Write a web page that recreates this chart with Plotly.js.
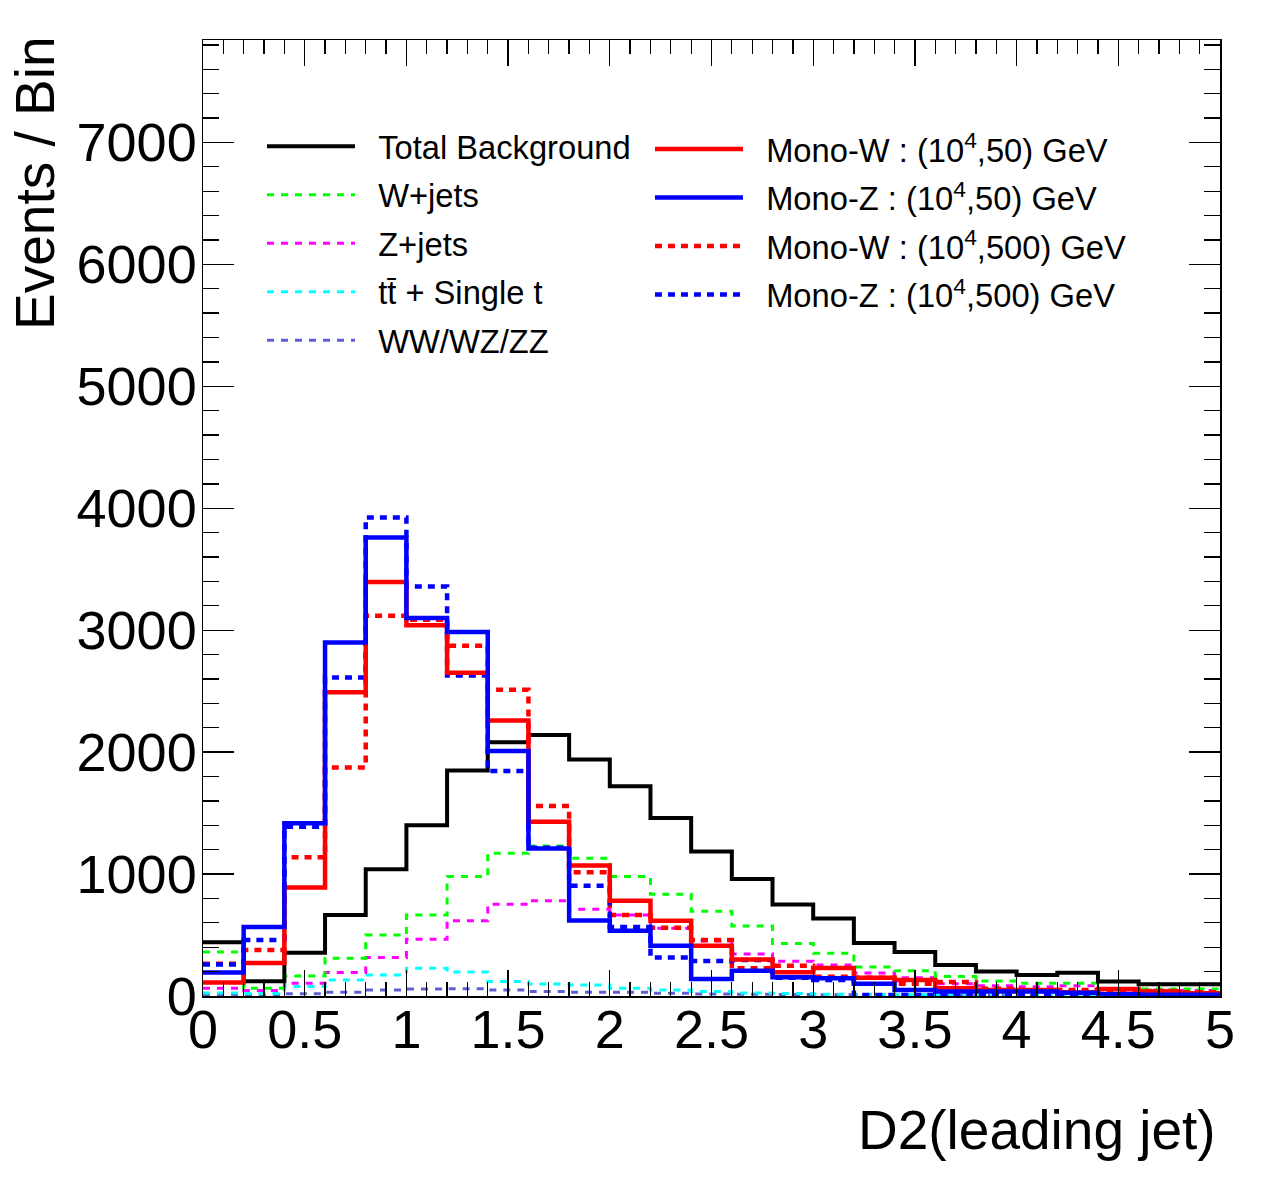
<!DOCTYPE html>
<html>
<head>
<meta charset="utf-8">
<script src="https://cdn.plot.ly/plotly-3.0.1.min.js"></script>
<style>html,body{margin:0;padding:0;background:#fff;}#chart{width:1264px;height:1186px;}</style>
</head>
<body>
<div id="chart"></div>
<script>
// Bin edges of the D2 histogram (25 bins)
const binEdges = [0,0.2,0.4,0.6,0.8,1.0,1.2,1.4,1.6,1.8,2.0,2.2,2.4,2.6,2.8,3.0,3.2,3.4,3.6,3.8,4.0,4.2,4.4,4.6,4.8,5.0];

// Events per bin
const totalBkg = [440,120,355,665,1040,1400,1850,2080,2140,1940,1720,1460,1185,960,750,635,435,360,254,200,172,190,118,97,97];
const wJets    = [360,63,165,310,500,665,980,1170,1230,1130,980,835,695,575,430,350,237,208,159,123,104,104,58,58,58];
const zJets    = [63,45,104,193,315,465,618,752,782,711,665,555,451,345,284,254,188,150,100,85,75,85,50,50,45];
const topQuark = [25,20,77,131,172,227,197,118,98,90,63,49,36,25,20,15,12,10,8,6,5,5,4,3,3];
const diboson  = [8,8,18,30,49,57,60,49,36,30,30,22,16,14,12,10,8,6,5,4,4,3,3,2,2];
const monoW50  = [110,270,890,2490,3395,3040,2650,2260,1430,1070,782,618,413,300,194,230,150,131,63,49,49,30,57,36,22];
const monoZ50  = [192,565,1417,2900,3760,3100,2985,2010,1210,620,536,413,140,208,153,145,100,49,36,36,36,27,14,10,10];
const monoW500 = [265,377,1138,1874,3118,3085,2872,2511,1559,1015,665,560,460,227,249,158,150,100,115,60,40,50,40,40,30];
const monoZ500 = [258,460,1389,2612,3925,3359,2629,1846,1215,905,565,316,287,295,150,131,8,8,8,6,6,5,5,5,5];

const names = {
  total: 'Total Background',
  w: 'W+jets',
  z: 'Z+jets',
  top: 'tt\u0304 + Single t',
  vv: 'WW/WZ/ZZ',
  mw50: 'Mono-W : (10<sup>4</sup>,50) GeV',
  mz50: 'Mono-Z : (10<sup>4</sup>,50) GeV',
  mw500: 'Mono-W : (10<sup>4</sup>,500) GeV',
  mz500: 'Mono-Z : (10<sup>4</sup>,500) GeV'
};

const PAD = '\u00A0\u00A0';
function step(vals, name, color, width, dash, legend, rank) {
  return {
    type: 'scatter', mode: 'lines',
    x: binEdges,
    y: vals.concat([vals[vals.length - 1]]),
    line: {shape: 'hv', color: color, width: width, dash: dash},
    name: PAD + name,
    legend: legend,
    legendgroup: 'g' + rank,
    legendrank: rank,
    hoverinfo: 'skip'
  };
}

const bgDash = '7px,7px';
const sigDash = '7px,6px';
const traces = [
  step(diboson, names.vv, '#5f5fd3', 3, bgDash, 'legend', 5),
  step(topQuark, names.top, '#00ffff', 3, bgDash, 'legend', 4),
  step(zJets, names.z, '#ff00ff', 3, bgDash, 'legend', 3),
  step(wJets, names.w, '#00ff00', 3, bgDash, 'legend', 2),
  step(totalBkg, names.total, '#000000', 4, 'solid', 'legend', 1),
  step(monoW500, names.mw500, '#ff0000', 4.5, sigDash, 'legend2', 13),
  step(monoZ500, names.mz500, '#0000ff', 4.5, sigDash, 'legend2', 14),
  step(monoW50, names.mw50, '#ff0000', 4.5, 'solid', 'legend2', 11),
  step(monoZ50, names.mz50, '#0000ff', 4.5, 'solid', 'legend2', 12)
];

const FONT = 'Liberation Sans, Arial, Helvetica, sans-serif';
const legendCommon = {
  font: {family: FONT, size: 32.7, color: '#000'},
  bgcolor: 'rgba(0,0,0,0)', borderwidth: 0,
  itemwidth: 88, tracegroupgap: 3,
  xanchor: 'left', yanchor: 'top', traceorder: 'grouped',
  itemclick: false, itemdoubleclick: false
};

const layout = {
  width: 1264, height: 1186,
  margin: {l: 203, r: 44, t: 40, b: 190},
  paper_bgcolor: '#fff', plot_bgcolor: '#fff',
  font: {family: FONT, color: '#000'},
  showlegend: true,
  legend: Object.assign({}, legendCommon, {x: 0.058, y: 0.918}),
  legend2: Object.assign({}, legendCommon, {x: 0.4395, y: 0.915}),
  xaxis: {
    range: [0, 5], tick0: 0, dtick: 0.5,
    ticks: 'inside', ticklen: 26, tickwidth: 1.3, tickcolor: '#000',
    minor: {dtick: 0.1, ticks: 'inside', ticklen: 14, tickwidth: 1.3, tickcolor: '#000', showgrid: false},
    showline: true, linewidth: 1.5, linecolor: '#000', mirror: 'ticks',
    showgrid: false, zeroline: false,
    tickfont: {family: FONT, size: 54, color: '#000'},
    ticklabelstandoff: -14,
    exponentformat: 'none'
  },
  yaxis: {
    range: [0, 7840], tick0: 0, dtick: 1000,
    ticks: 'inside', ticklen: 31, tickwidth: 1.3, tickcolor: '#000',
    minor: {dtick: 200, ticks: 'inside', ticklen: 16, tickwidth: 1.3, tickcolor: '#000', showgrid: false},
    showline: true, linewidth: 1.5, linecolor: '#000', mirror: 'ticks',
    showgrid: false, zeroline: false,
    tickfont: {family: FONT, size: 54, color: '#000'},
    ticklabelstandoff: -6,
    exponentformat: 'none', separatethousands: false
  },
  annotations: [
    {text: 'D2(leading jet)', xref: 'paper', yref: 'paper', x: 0.998, y: -0.14,
     xanchor: 'right', yanchor: 'middle', showarrow: false,
     font: {family: FONT, size: 55, color: '#000'}},
    {text: 'Events / Bin', xref: 'paper', yref: 'paper', x: -0.165, y: 1.005,
     xanchor: 'center', yanchor: 'top', textangle: -90, showarrow: false,
     font: {family: FONT, size: 55, color: '#000'}}
  ]
};

Plotly.newPlot('chart', traces, layout, {staticPlot: true, displayModeBar: false});
</script>
</body>
</html>
